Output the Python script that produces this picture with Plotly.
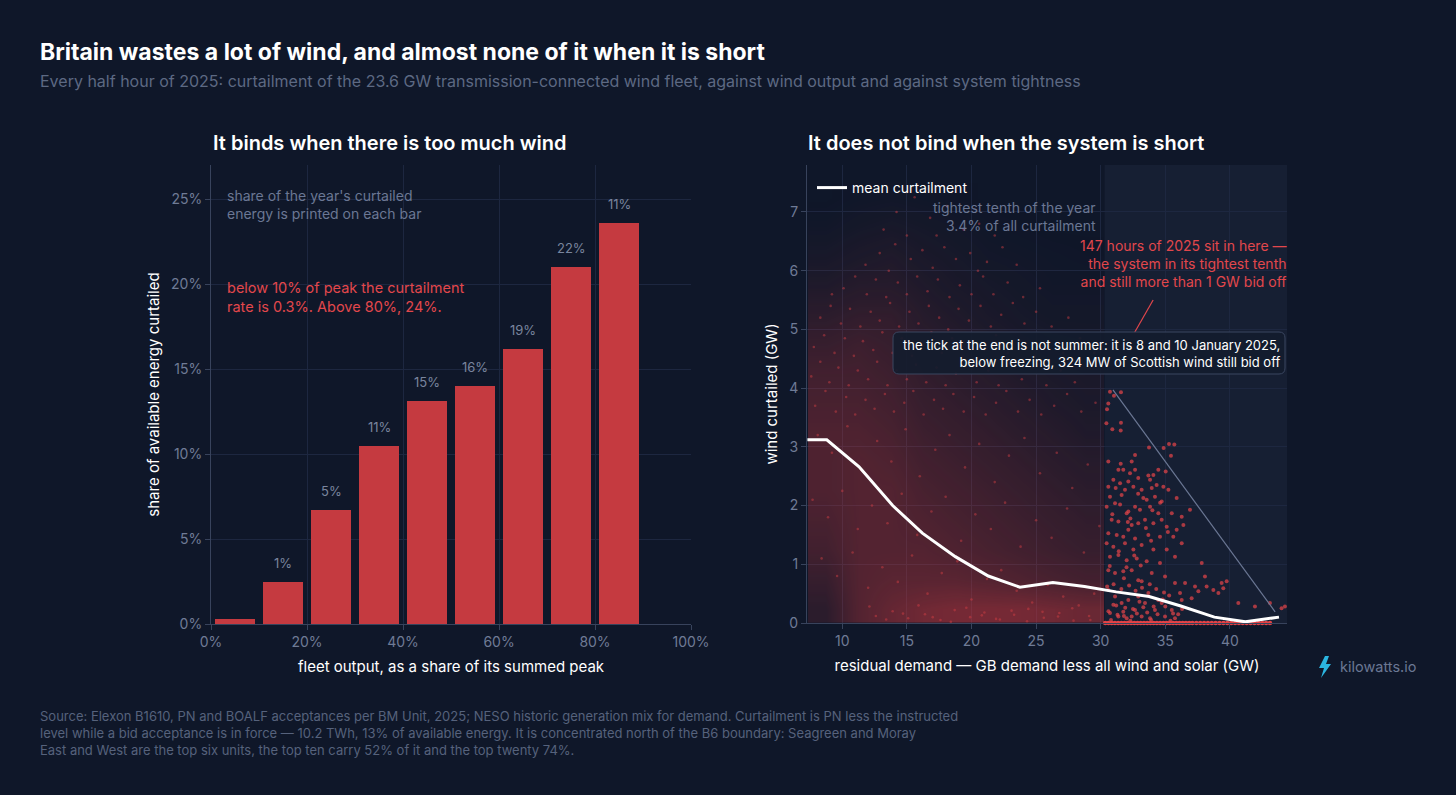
import plotly.graph_objects as go

# ---------------- data ----------------
# left: curtailment rate by fleet output bin
bin_centres = [5, 15, 25, 35, 45, 55, 65, 75, 85]
curtail_rate = [0.3, 2.5, 6.7, 10.5, 13.1, 14.0, 16.2, 21.0, 23.6]
share_labels = ["", "1%", "5%", "11%", "15%", "16%", "19%", "22%", "11%"]

# right: mean curtailment by residual demand
mean_x = [7.3, 8.8, 11.3, 13.9, 16.2, 18.75, 21.3, 23.75, 26.3, 28.75, 31.2, 33.75, 36.2, 38.8, 41.2, 43.8]
mean_y = [3.12, 3.12, 2.66, 2.0, 1.53, 1.13, 0.80, 0.61, 0.69, 0.62, 0.53, 0.45, 0.29, 0.10, 0.02, 0.10]

# density of half-hours in the main cloud (relative)
dens_x = [8.65, 11.25, 13.75, 16.25, 18.75, 21.25, 23.75, 26.25, 28.9]
dens_y = [0.25, 0.75, 1.25, 1.75, 2.25, 2.75, 3.25, 3.75, 4.25, 4.75, 5.25, 5.75, 6.25, 6.75, 7.25]
dens_cols = [
    [0.25, 0.35, 0.45, 0.5, 0.55, 0.55, 0.55, 0.5, 0.45, 0.35, 0.25, 0.15, 0.08, 0.03, 0.0],
    [0.6, 0.6, 0.6, 0.6, 0.6, 0.6, 0.55, 0.5, 0.45, 0.4, 0.3, 0.2, 0.12, 0.06, 0.02],
    [0.75, 0.65, 0.6, 0.6, 0.6, 0.55, 0.5, 0.45, 0.4, 0.35, 0.3, 0.2, 0.15, 0.08, 0.03],
    [0.85, 0.65, 0.6, 0.55, 0.5, 0.45, 0.4, 0.35, 0.3, 0.25, 0.2, 0.15, 0.1, 0.06, 0.02],
    [0.9, 0.65, 0.55, 0.5, 0.45, 0.4, 0.35, 0.3, 0.25, 0.2, 0.15, 0.1, 0.07, 0.04, 0.01],
    [0.9, 0.6, 0.5, 0.45, 0.4, 0.35, 0.3, 0.25, 0.2, 0.15, 0.1, 0.07, 0.04, 0.02, 0.0],
    [0.9, 0.55, 0.45, 0.4, 0.35, 0.3, 0.25, 0.2, 0.15, 0.1, 0.07, 0.05, 0.03, 0.01, 0.0],
    [0.85, 0.5, 0.4, 0.35, 0.3, 0.25, 0.2, 0.15, 0.12, 0.08, 0.05, 0.03, 0.02, 0.0, 0.0],
    [0.8, 0.45, 0.35, 0.3, 0.25, 0.2, 0.15, 0.12, 0.1, 0.07, 0.05, 0.03, 0.01, 0.0, 0.0],
]

# individual half-hours visible in the main cloud (residual demand GW, curtailed GW)
cloud_x = [14.2, 15.6, 16.8, 18.1, 19.4, 17.3, 15.0, 20.6, 13.2, 21.8,
           11.8, 12.9, 14.1, 15.3, 16.2, 17.0, 17.9, 18.8, 19.9, 21.2, 22.4, 23.5, 13.6, 20.5,
           10.1, 11.0, 11.9, 12.6, 13.4, 14.3, 15.0, 15.8, 16.6, 17.4, 18.3, 19.1, 20.0, 20.9, 21.7, 22.8, 24.0, 25.3, 9.2,
           8.3, 9.1, 9.9, 10.6, 11.4, 12.2, 12.9, 13.7, 14.4, 15.2, 15.9, 16.7, 17.5, 18.2, 19.0, 19.8, 20.7, 21.5, 22.3,
           23.2, 24.1, 25.0, 26.2, 27.5,
           7.8, 8.6, 9.4, 10.2, 10.9, 11.6, 12.4, 13.1, 13.9, 14.6, 15.4, 16.1, 16.9, 17.7, 18.5, 19.3, 20.1, 21.0, 21.9,
           22.8, 23.8, 24.9, 26.0, 27.1, 28.4, 29.5,
           7.6, 8.3, 9.0, 9.7, 10.5, 11.2, 12.0, 12.7, 13.5, 14.2, 15.0, 15.7, 16.5, 17.3, 18.0, 18.8, 19.6, 20.4, 21.3,
           22.1, 23.0, 23.9, 24.8, 25.8, 26.9, 28.0, 29.2,
           7.9, 8.7, 9.5, 10.3, 11.0, 11.8, 12.5, 13.3, 14.0, 14.8, 15.5, 16.3, 17.1, 17.8, 18.6, 19.4, 20.2, 21.1, 21.9,
           22.7, 23.6, 24.5, 25.4, 26.4, 27.4, 28.5, 29.6,
           8.1, 9.2, 10.4, 11.5, 12.7, 13.8, 14.9, 16.0, 17.2, 18.3, 19.5, 20.6, 21.8, 22.9, 24.1, 25.3, 26.6, 27.8, 29.0,
           7.7, 8.9, 10.0, 11.2, 12.3, 13.5, 14.6, 15.8, 16.9, 18.0, 19.2, 20.3, 21.5, 22.6, 23.8, 25.0, 26.2, 27.4, 28.7, 29.9,
           8.4, 9.6, 10.8, 12.0, 13.1, 14.3, 15.4, 16.6, 17.7, 18.9, 20.0, 21.2, 22.3, 23.5, 24.7, 25.9, 27.1, 28.3, 29.5,
           12.6, 13.9, 15.1, 16.4, 17.6, 18.7, 19.9, 21.0, 22.2, 23.3, 24.4, 25.6, 26.8, 27.9, 29.1,
           12.1, 13.4, 14.7, 15.9, 17.0, 18.4, 19.6, 20.8, 21.9, 23.1, 24.3, 25.5, 26.7, 27.8, 29.2]
cloud_y = [7.0, 7.25, 6.9, 7.1, 6.7, 6.6, 6.6, 6.8, 6.7, 6.6,
           6.1, 6.3, 6.45, 6.2, 6.35, 6.05, 6.4, 6.2, 6.3, 6.15, 6.4, 6.1, 6.0, 6.0,
           5.7, 5.9, 5.6, 5.85, 5.55, 5.8, 5.6, 5.9, 5.65, 5.85, 5.55, 5.75, 5.6, 5.9, 5.6, 5.8, 5.55, 5.7, 5.6,
           5.2, 5.4, 5.1, 5.35, 5.05, 5.3, 5.15, 5.45, 5.05, 5.3, 5.1, 5.4, 5.2, 5.0, 5.35, 5.15, 5.4, 5.05, 5.25,
           5.45, 5.1, 5.3, 5.05, 5.2,
           4.7, 4.9, 4.6, 4.85, 4.55, 4.8, 4.65, 4.95, 4.6, 4.85, 4.55, 4.75, 4.95, 4.6, 4.85, 4.55, 4.8, 4.65, 4.9,
           4.6, 4.8, 4.55, 4.75, 4.6, 4.85, 4.6,
           4.2, 4.45, 4.1, 4.35, 4.05, 4.3, 4.15, 4.45, 4.05, 4.3, 4.15, 4.4, 4.1, 4.35, 4.05, 4.25, 4.45, 4.1, 4.3,
           4.05, 4.4, 4.15, 4.35, 4.05, 4.3, 4.1, 4.35,
           3.7, 3.95, 3.6, 3.85, 3.55, 3.8, 3.65, 3.9, 3.6, 3.75, 3.95, 3.55, 3.8, 3.65, 3.9, 3.6, 3.85, 3.55, 3.75,
           3.95, 3.6, 3.8, 3.55, 3.7, 3.9, 3.6, 3.75,
           3.2, 2.9, 3.35, 2.6, 3.1, 2.75, 3.3, 2.5, 2.95, 3.2, 2.65, 3.05, 2.4, 2.85, 3.15, 2.55, 2.9, 2.3, 2.7,
           2.1, 1.8, 2.25, 1.6, 2.0, 1.7, 2.2, 1.5, 1.9, 2.15, 1.4, 1.85, 1.6, 2.05, 1.3, 1.75, 1.45, 1.95, 1.2, 1.65,
           1.1, 0.8, 1.2, 0.6, 0.95, 0.7, 1.15, 0.5, 0.85, 1.05, 0.4, 0.75, 0.9, 0.55, 0.35, 0.65, 0.45, 0.3, 0.5,
           0.12, 0.2, 0.08, 0.15, 0.05, 0.22, 0.1, 0.18, 0.06, 0.14, 0.24, 0.09, 0.17, 0.04, 0.12,
           0.28, 0.06, 0.16, 0.3, 0.1, 0.02, 0.26, 0.13, 0.07, 0.21, 0.03, 0.19, 0.11, 0.25, 0.05]

# half-hours in the tightest tenth (residual demand GW, curtailed GW)
tight_x = [30.72, 31.57, 31.03, 30.59, 30.49, 30.44, 30.9, 31.57, 31.55, 33.74, 34.87, 35.29, 35.7, 35.44,
           32.66, 32.4, 30.59, 31.55, 31.37, 31.75, 32.27, 32.66, 33.69, 34.08, 34.46, 35.03, 30.98, 31.5,
           32.14, 32.91, 33.82, 34.33, 30.59, 31.16, 31.88, 32.53, 33.17, 33.95, 34.85, 35.24, 30.72, 31.62,
           33.3, 33.56, 34.2, 34.72, 35.88, 30.46, 31.11, 32.01, 32.14, 32.66, 33.04, 33.82, 34.46, 35.5,
           36.27, 36.91, 30.85, 31.37, 32.4, 32.91, 33.43, 34.08, 34.72, 35.11, 35.88, 36.4, 30.59, 31.24,
           31.75, 32.14, 32.66, 33.69, 34.59, 35.62, 36.27, 30.46, 30.98, 31.88, 32.53, 33.17, 34.08, 35.11,
           35.75, 30.72, 31.37, 32.01, 32.79, 33.56, 34.59, 37.82, 30.59, 31.11, 31.75, 32.4, 32.91, 33.17,
           33.95, 34.98, 35.75, 36.53, 37.3, 38.07, 38.2, 39.36, 39.75, 38.72, 39.11, 39.49, 40.65, 41.94,
           43.1, 44.0, 44.26, 37.56, 37.04, 36.27, 36.14, 30.59, 31.11, 31.62, 32.14, 32.66, 33.43, 34.2,
           34.98, 35.5, 30.72, 31.37, 32.01, 33.17, 33.82, 34.72, 35.75, 30.98, 32.4, 32.91, 33.69, 31.75,
           34.46, 30.8, 31.3, 31.9, 32.3, 32.8, 33.3, 33.9, 34.4, 35.0, 35.4, 36.0, 30.5, 31.0, 31.6, 32.2,
           32.7, 33.2, 33.8, 34.3, 34.9, 35.3, 30.6, 31.2, 31.8, 32.5, 33.0, 33.6, 34.1, 34.8, 35.6, 36.3,
           30.9, 31.5, 32.1, 32.9, 33.5, 34.0, 34.6, 35.2, 32.0, 31.4, 33.9, 32.6, 33.1, 31.8, 30.7, 32.3]
tight_y = [3.94, 3.93, 3.87, 3.74, 3.64, 3.40, 3.30, 3.41, 3.28, 2.99, 2.98, 3.05, 3.04, 2.85,
           2.86, 2.75, 2.75, 2.71, 2.61, 2.61, 2.55, 2.61, 2.51, 2.52, 2.61, 2.58, 2.44, 2.38,
           2.41, 2.47, 2.44, 2.35, 2.32, 2.30, 2.27, 2.32, 2.27, 2.30, 2.32, 2.27, 2.15, 2.18,
           2.13, 2.10, 2.15, 2.07, 2.13, 1.98, 2.04, 1.87, 1.90, 1.98, 1.93, 1.98, 1.87, 1.87,
           1.81, 1.93, 1.76, 1.73, 1.67, 1.70, 1.76, 1.70, 1.76, 1.64, 1.59, 1.67, 1.53, 1.50,
           1.47, 1.59, 1.44, 1.50, 1.47, 1.47, 1.36, 1.36, 1.30, 1.36, 1.25, 1.33, 1.25, 1.25,
           1.13, 1.13, 1.16, 1.07, 1.10, 1.05, 1.02, 1.02, 0.90, 0.85, 0.88, 0.90, 0.73, 0.71,
           0.85, 0.79, 0.68, 0.68, 0.62, 0.79, 0.62, 0.68, 0.71, 0.56, 0.51, 0.59, 0.34, 0.28,
           0.34, 0.25, 0.28, 0.54, 0.42, 0.39, 0.51, 0.56, 0.45, 0.34, 0.39, 0.22, 0.34, 0.22,
           0.11, 0.22, 0.17, 0.11, 0.08, 0.11, 0.08, 0.34, 0.08, 0.31, 0.11, 0.45, 0.51, 0.19,
           0.39, 0.05, 0.14, 0.26, 0.04, 0.16, 0.27, 0.05, 0.15, 0.28, 0.04, 0.15, 0.62, 0.66, 0.58, 0.64,
           0.55, 0.60, 0.66, 0.58, 0.52, 0.47, 0.20, 0.30, 0.12, 0.24, 0.36, 0.18, 0.28, 0.40, 0.16, 0.24,
           1.85, 2.02, 1.72, 2.20, 1.62, 1.92, 2.05, 1.55, 0.95, 1.22, 1.40, 1.15, 0.98, 0.76, 0.97, 1.78]
# half-hours in the tightest tenth with nothing bid off
zero_x = [30.35, 30.6, 30.85, 31.1, 31.35, 31.6, 31.85, 32.1, 32.35, 32.6, 32.85, 33.1, 33.35, 33.6,
          33.85, 34.1, 34.35, 34.6, 34.85, 35.1, 35.35, 35.6, 35.85, 36.1, 36.35, 36.6, 36.85, 37.1,
          37.4, 37.7, 38.0, 38.3, 38.6, 38.9, 39.2, 39.5, 39.8, 40.1, 40.4, 40.7, 41.0, 41.3, 41.6,
          41.9, 42.2, 42.5, 42.8, 43.1]
zero_y = [0.0] * len(zero_x)

# ---------------- styling ----------------
BG = "#0f1729"
GRID = "#1d2740"
AXIS = "#38435c"
TICK = "#6f7b96"
RED = "#c53a40"
RED_TXT = "#e2474c"
GREY_TXT = "#6b7794"
W, H = 1456, 795
FONT = "Inter"


def px(x):
    return x / W


def py(y):
    return 1 - y / H


fig = go.Figure()

# left bars
fig.add_trace(go.Bar(
    x=bin_centres, y=curtail_rate, width=8.4, marker=dict(color=RED, line=dict(width=0)),
    xaxis="x", yaxis="y", showlegend=False, hoverinfo="skip"))

# right: density haze
z = [[dens_cols[c][r] for c in range(len(dens_x))] for r in range(len(dens_y))]
fig.add_trace(go.Heatmap(
    x=dens_x, y=dens_y, z=z, zmin=0, zmax=1, zsmooth="best", showscale=False,
    colorscale=[[0, "rgba(205,58,64,0)"], [1, "rgba(205,58,64,0.6)"]],
    xaxis="x2", yaxis="y2", hoverinfo="skip"))

fig.add_trace(go.Scatter(
    x=cloud_x, y=cloud_y, mode="markers", marker=dict(color="rgba(214,64,68,0.45)", size=2.6),
    xaxis="x2", yaxis="y2", showlegend=False, hoverinfo="skip"))
fig.add_trace(go.Scatter(
    x=zero_x, y=zero_y, mode="markers", marker=dict(color="rgba(238,70,72,0.95)", size=4.5),
    xaxis="x2", yaxis="y2", showlegend=False, hoverinfo="skip", cliponaxis=False))
fig.add_trace(go.Scatter(
    x=tight_x, y=tight_y, mode="markers", marker=dict(color="rgba(226,68,72,0.72)", size=4),
    xaxis="x2", yaxis="y2", showlegend=False, hoverinfo="skip"))

fig.add_trace(go.Scatter(
    x=mean_x, y=mean_y, mode="lines", line=dict(color="white", width=3),
    name="mean curtailment", xaxis="x2", yaxis="y2", hoverinfo="skip"))

annotations = []
for xc, v, lab in zip(bin_centres, curtail_rate, share_labels):
    if lab:
        annotations.append(dict(x=xc, y=v, xref="x", yref="y", text=lab, showarrow=False,
                                yanchor="bottom", yshift=9,
                                font=dict(family=FONT, size=13, color="#7a859e")))

# titles
annotations += [
    dict(x=px(38), y=py(52), xref="paper", yref="paper", xanchor="left", yanchor="middle",
         text="<b>Britain wastes a lot of wind, and almost none of it when it is short</b>",
         showarrow=False, font=dict(family="Inter", size=23, color="white")),
    dict(x=px(38), y=py(81), xref="paper", yref="paper", xanchor="left", yanchor="middle",
         text="Every half hour of 2025: curtailment of the 23.6 GW transmission-connected wind fleet, against wind output and against system tightness",
         showarrow=False, font=dict(family=FONT, size=16, color="#5d6983")),
    dict(x=px(211), y=py(143), xref="paper", yref="paper", xanchor="left", yanchor="middle",
         text="It binds when there is too much wind", showarrow=False,
         font=dict(family="Inter", size=20, color="white", weight=600)),
    dict(x=px(806), y=py(143), xref="paper", yref="paper", xanchor="left", yanchor="middle",
         text="It does not bind when the system is short", showarrow=False,
         font=dict(family="Inter", size=20, color="white", weight=600)),
    # left notes
    dict(x=px(225), y=py(205), xref="paper", yref="paper", xanchor="left", yanchor="middle",
         align="left", text="share of the year's curtailed<br>energy is printed on each bar",
         showarrow=False, font=dict(family=FONT, size=14, color=GREY_TXT)),
    dict(x=px(225), y=py(297), xref="paper", yref="paper", xanchor="left", yanchor="middle",
         align="left", text="below 10% of peak the curtailment<br>rate is 0.3%. Above 80%, 24%.",
         showarrow=False, font=dict(family=FONT, size=14.5, color=RED_TXT)),
    # right notes
    dict(x=px(1098), y=py(217), xref="paper", yref="paper", xanchor="right", yanchor="middle",
         align="right", text="tightest tenth of the year<br>3.4% of all curtailment",
         showarrow=False, font=dict(family=FONT, size=14, color=GREY_TXT)),
    dict(x=px(1289), y=py(264), xref="paper", yref="paper", xanchor="right", yanchor="middle",
         align="right",
         text="147 hours of 2025 sit in here —<br>the system in its tightest tenth<br>and still more than 1 GW bid off",
         showarrow=False, font=dict(family=FONT, size=14, color=RED_TXT)),
    dict(x=px(1282), y=py(353), xref="paper", yref="paper", xanchor="right", yanchor="middle",
         align="right",
         text="the tick at the end is not summer: it is 8 and 10 January 2025,<br>below freezing, 324 MW of Scottish wind still bid off",
         showarrow=False, font=dict(family=FONT, size=13, color="white")),
    # footer
    dict(x=px(38), y=py(733), xref="paper", yref="paper", xanchor="left", yanchor="middle",
         align="left",
         text="Source: Elexon B1610, PN and BOALF acceptances per BM Unit, 2025; NESO historic generation mix for demand. Curtailment is PN less the instructed<br>"
              "level while a bid acceptance is in force — 10.2 TWh, 13% of available energy. It is concentrated north of the B6 boundary: Seagreen and Moray<br>"
              "East and West are the top six units, the top ten carry 52% of it and the top twenty 74%.",
         showarrow=False, font=dict(family=FONT, size=13, color="#56627c")),
    # logo
    dict(x=px(1338), y=py(666), xref="paper", yref="paper", xanchor="left", yanchor="middle",
         text="kilowatts.io", showarrow=False, font=dict(family=FONT, size=14.5, color="#6b7794")),
]


def bolt_path():
    pts = [(1325, 656), (1319, 668), (1324, 668), (1321, 678), (1331, 664), (1326, 664), (1329, 656)]
    return "M " + " L ".join(f"{px(a)},{py(b)}" for a, b in pts) + " Z"


def rounded_box(x0, y0, x1, y1, r):
    p = [f"M {px(x0 + r)},{py(y0)}", f"L {px(x1 - r)},{py(y0)}",
         f"Q {px(x1)},{py(y0)} {px(x1)},{py(y0 + r)}", f"L {px(x1)},{py(y1 - r)}",
         f"Q {px(x1)},{py(y1)} {px(x1 - r)},{py(y1)}", f"L {px(x0 + r)},{py(y1)}",
         f"Q {px(x0)},{py(y1)} {px(x0)},{py(y1 - r)}", f"L {px(x0)},{py(y0 + r)}",
         f"Q {px(x0)},{py(y0)} {px(x0 + r)},{py(y0)}", "Z"]
    return " ".join(p)


# leader lines for the right-hand notes (data units)
grey_leader = (30.95, 3.97, 43.5, 0.19)
red_leader = (34.06, 5.5, 32.6, 4.94)
tight_start = 30.3

shapes = [
    dict(type="rect", xref="x2", yref="y2 domain", x0=tight_start, x1=44.42, y0=0, y1=1,
         fillcolor="#161f33", line=dict(width=0), layer="below"),
    dict(type="line", xref="x2", yref="y2", x0=grey_leader[0], y0=grey_leader[1],
         x1=grey_leader[2], y1=grey_leader[3], line=dict(color="#6b7794", width=1.2)),
    dict(type="line", xref="x2", yref="y2", x0=red_leader[0], y0=red_leader[1],
         x1=red_leader[2], y1=red_leader[3], line=dict(color=RED_TXT, width=1.2)),
    dict(type="path", xref="paper", yref="paper", path=rounded_box(893, 332, 1285, 374, 6),
         fillcolor="rgba(20,28,46,0.92)", line=dict(color="#3a4660", width=1)),
    dict(type="path", xref="paper", yref="paper", path=bolt_path(),
         fillcolor="#2bb5e0", line=dict(width=0)),
]

axis_common = dict(showgrid=True, gridcolor=GRID, gridwidth=1, zeroline=False, automargin=False,
                   showline=True, linecolor=AXIS, linewidth=1, ticks="outside",
                   ticklen=5, tickcolor=AXIS, tickfont=dict(family=FONT, size=14, color=TICK))

fig.update_layout(
    width=W, height=H, autosize=False, paper_bgcolor=BG, plot_bgcolor=BG,
    margin=dict(l=0, r=0, t=0, b=0, pad=0, autoexpand=False),
    font=dict(family=FONT, color="white"),
    bargap=0,
    xaxis=dict(domain=[px(211), px(691)], range=[0, 100], tickvals=[0, 20, 40, 60, 80, 100],
               ticktext=["0%", "20%", "40%", "60%", "80%", "100%"], anchor="y",
               title=dict(text="fleet output, as a share of its summed peak",
                          font=dict(family=FONT, size=15, color="white"), standoff=12),
               **axis_common),
    yaxis=dict(domain=[1 - 624 / H, 1 - 165 / H], range=[0, 27], tickvals=[0, 5, 10, 15, 20, 25],
               ticktext=["0%", "5%", "10%", "15%", "20%", "25%"], anchor="x",
               title=dict(text="share of available energy curtailed",
                          font=dict(family=FONT, size=15, color="white"), standoff=7),
               **axis_common),
    xaxis2=dict(domain=[px(807), px(1287)], range=[7.27, 44.42], tickvals=[10, 15, 20, 25, 30, 35, 40],
                anchor="y2",
                title=dict(text="residual demand — GB demand less all wind and solar (GW)",
                           font=dict(family=FONT, size=15, color="white"), standoff=12),
                **axis_common),
    yaxis2=dict(domain=[1 - 623 / H, 1 - 165 / H], range=[0, 7.8], tickvals=[0, 1, 2, 3, 4, 5, 6, 7],
                anchor="x2",
                title=dict(text="wind curtailed (GW)",
                           font=dict(family=FONT, size=15, color="white"), standoff=7),
                **axis_common),
    legend=dict(x=px(812), y=py(172), xanchor="left", yanchor="top", bgcolor="rgba(0,0,0,0)",
                font=dict(family=FONT, size=14, color="white"), itemwidth=30),
    showlegend=True,
    annotations=annotations,
    shapes=shapes,
)

fig.write_html("out.html", config={"responsive": False, "displayModeBar": False},
               post_script="document.body.style.margin='0';document.body.style.overflow='hidden';")
